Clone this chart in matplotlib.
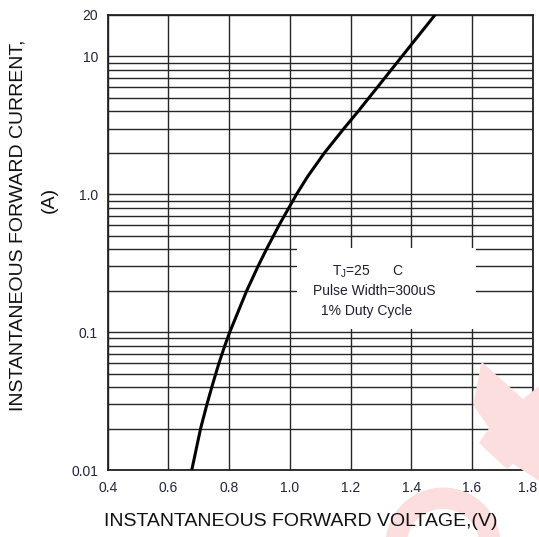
import matplotlib
matplotlib.use('Agg')
import matplotlib.pyplot as plt
import matplotlib.transforms as mtransforms
from matplotlib.ticker import FixedLocator, LogLocator, NullFormatter
from matplotlib.patches import Rectangle, Polygon, Wedge

plt.rcParams['font.family'] = ['Liberation Sans', 'DejaVu Sans']
plt.rcParams['mathtext.fontset'] = 'custom'
plt.rcParams['mathtext.rm'] = 'Liberation Sans'

# forward voltage (V) vs forward current (A)
volts = [0.677, 0.706, 0.727, 0.743, 0.756, 0.767, 0.777, 0.786, 0.802,
         0.858, 0.895, 0.923, 0.965, 0.997, 1.022, 1.058,
         1.114, 1.178, 1.225, 1.260, 1.289, 1.313, 1.334, 1.369, 1.478]
amps = [0.01, 0.02, 0.03, 0.04, 0.05, 0.06, 0.07, 0.08, 0.1,
        0.2, 0.3, 0.4, 0.6, 0.8, 1.0, 1.34,
        2, 3, 4, 5, 6, 7, 8, 10, 20]

x_ticks = [0.4, 0.6, 0.8, 1.0, 1.2, 1.4, 1.6, 1.8]
x_labels = ['0.4', '0.6', '0.8', '1.0', '1.2', '1.4', '1.6', '1.8']
y_ticks = [0.01, 0.1, 1.0, 10, 20]
y_labels = ['0.01', '0.1', '1.0', '10', '20']

W, H = 539, 537
fig = plt.figure(figsize=(W/100, H/100), dpi=100)

# faint pink watermark behind the chart
wm = '#fddede'
pts = [(482, 363), (523, 400), (539, 387), (539, 480), (513, 463), (507, 468),
       (480, 443), (490, 428), (474, 405)]
fig.patches.append(Polygon([(x/W, 1-y/H) for x, y in pts], closed=True,
                           transform=fig.transFigure, color=wm, zorder=0))
fig.patches.append(Wedge((443/W, 1-545/H), 57/W, 0, 180, width=20/W,
                         transform=fig.transFigure, color=wm, zorder=0))

ax = fig.add_axes([107.7/W, 1-470/H, 425/W, 455/H])
ax.patch.set_alpha(0)

ax.set_yscale('log')
ax.set_xlim(0.4, 1.8)
ax.set_ylim(0.01, 20)

ax.plot(volts, amps, color='black', lw=2.2, zorder=5, solid_joinstyle='round')

ax.set_xticks(x_ticks)
ax.set_xticklabels(x_labels)
ax.yaxis.set_major_locator(FixedLocator(y_ticks))
ax.set_yticklabels(y_labels)
ax.yaxis.set_minor_locator(LogLocator(base=10, subs=range(2, 10)))
ax.yaxis.set_minor_formatter(NullFormatter())
ax.tick_params(axis='both', which='both', length=0, labelsize=10, colors='#23233a')
ax.tick_params(axis='x', pad=8)
ax.tick_params(axis='y', pad=7)

# last x label sits at the very edge, nudge it inside
lbl = ax.get_xticklabels()[-1]
lbl.set_transform(lbl.get_transform() +
                  mtransforms.ScaledTranslation(-5/100, 0, fig.dpi_scale_trans))

ax.grid(True, which='major', axis='x', color='#262626', lw=1.0)
ax.grid(True, which='both', axis='y', color='#262626', lw=1.0)
for s in ax.spines.values():
    s.set_color('#222222')
    s.set_linewidth(1.3)

# annotation block, covers the grid behind it
ax.add_patch(Rectangle((0.446, 0.31), 0.42, 0.178, transform=ax.transAxes,
                       facecolor='white', edgecolor='none', zorder=3))
ax.text(0.612, 0.436, r'T$_\mathrm{J}$=25      C', transform=ax.transAxes,
        ha='center', va='center', fontsize=10, color='#1e1e30', zorder=4)
ax.text(0.627, 0.393, 'Pulse Width=300uS', transform=ax.transAxes,
        ha='center', va='center', fontsize=10, color='#1e1e30', zorder=4)
ax.text(0.61, 0.35, '1% Duty Cycle', transform=ax.transAxes,
        ha='center', va='center', fontsize=10, color='#1e1e30', zorder=4)

fig.text(301/W, 1-522/H, 'INSTANTANEOUS FORWARD VOLTAGE,(V)', ha='center',
         va='center', fontsize=14, color='#111111')
fig.text(18/W, 1-225/H, 'INSTANTANEOUS FORWARD CURRENT,', ha='center',
         va='center', rotation=90, fontsize=14, color='#111111')
fig.text(49/W, 1-200/H, '(A)', ha='center', va='center', rotation=90,
         fontsize=14, color='#111111')

fig.savefig('out.png', dpi=100)
